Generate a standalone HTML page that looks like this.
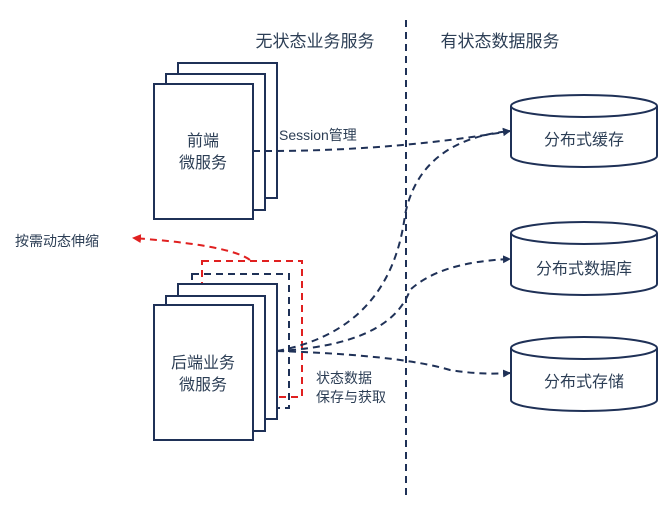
<!DOCTYPE html>
<html><head><meta charset="utf-8"><style>
html,body{margin:0;padding:0;background:#fff;}
svg text{font-family:"Liberation Sans","Noto Sans CJK SC",sans-serif;fill:#2c3e55;}
</style></head><body>
<svg width="667" height="506" viewBox="0 0 667 506" xmlns="http://www.w3.org/2000/svg">
<defs>
<marker id="ab" markerWidth="8" markerHeight="8" refX="7" refY="4" orient="auto" markerUnits="userSpaceOnUse"><path d="M0,0 L8,4 L0,8 Z" fill="#1f3157"/></marker>
<marker id="ar" markerWidth="9" markerHeight="9" refX="8" refY="4.5" orient="auto" markerUnits="userSpaceOnUse"><path d="M0,0 L9,4.5 L0,9 Z" fill="#e02020"/></marker>
</defs>
<text x="315" y="47" font-size="17" text-anchor="middle">无状态业务服务</text>
<text x="500" y="47" font-size="17" text-anchor="middle">有状态数据服务</text>
<line x1="406" y1="20" x2="406" y2="496" stroke="#1f3157" stroke-width="2" stroke-dasharray="7,5"/>
<!-- front cards -->
<g fill="#fff" stroke="#1f3157" stroke-width="2">
<rect x="178" y="63" width="99" height="135"/>
<rect x="166" y="74" width="99" height="136"/>
<rect x="154" y="84" width="99" height="135"/>
</g>
<text x="203" y="146" font-size="16" text-anchor="middle">前端</text>
<text x="203" y="168" font-size="16" text-anchor="middle">微服务</text>
<text x="279" y="140" font-size="14">Session管理</text>
<!-- back cards dashed -->
<rect x="202" y="261" width="100" height="136" fill="none" stroke="#e02020" stroke-width="2" stroke-dasharray="7,5"/>
<rect x="192" y="274" width="97" height="134" fill="none" stroke="#1f3157" stroke-width="2" stroke-dasharray="7,5"/>
<g fill="#fff" stroke="#1f3157" stroke-width="2">
<rect x="178" y="284" width="99" height="135"/>
<rect x="166" y="296" width="99" height="135"/>
<rect x="154" y="305" width="99" height="135"/>
</g>
<text x="203" y="368" font-size="16" text-anchor="middle">后端业务</text>
<text x="203" y="390" font-size="16" text-anchor="middle">微服务</text>
<text x="316" y="383" font-size="14">状态数据</text>
<text x="316" y="402" font-size="14">保存与获取</text>
<text x="15" y="246" font-size="14">按需动态伸缩</text>
<path d="M250,260 Q230,245 133,238" fill="none" stroke="#e02020" stroke-width="2" stroke-dasharray="7,5" marker-end="url(#ar)"/>
<!-- connectors -->
<g fill="none" stroke="#1f3157" stroke-width="2" stroke-dasharray="7,5">
<path d="M253,151 L277,151 Q400,150 510,131" marker-end="url(#ab)"/>
<path d="M277,351 Q390,330 405,215 Q420,140 510,131" marker-end="url(#ab)"/>
<path d="M277,351 Q390,345 410,290 Q440,262 510,259" marker-end="url(#ab)"/>
<path d="M277,351 Q400,355 450,370 Q480,375 510,373" marker-end="url(#ab)"/>
</g>
<!-- cylinders -->
<g fill="#fff" stroke="#1f3157" stroke-width="2">
<path d="M511,106 L511,156 A73,11 0 0 0 657,156 L657,106"/>
<ellipse cx="584" cy="106" rx="73" ry="11"/>
<path d="M511,233 L511,284 A73,11 0 0 0 657,284 L657,233"/>
<ellipse cx="584" cy="233" rx="73" ry="11"/>
<path d="M511,348 L511,400 A73,11 0 0 0 657,400 L657,348"/>
<ellipse cx="584" cy="348" rx="73" ry="11"/>
</g>
<text x="584" y="145" font-size="16" text-anchor="middle">分布式缓存</text>
<text x="584" y="274" font-size="16" text-anchor="middle">分布式数据库</text>
<text x="584" y="387" font-size="16" text-anchor="middle">分布式存储</text>
</svg>
</body></html>
